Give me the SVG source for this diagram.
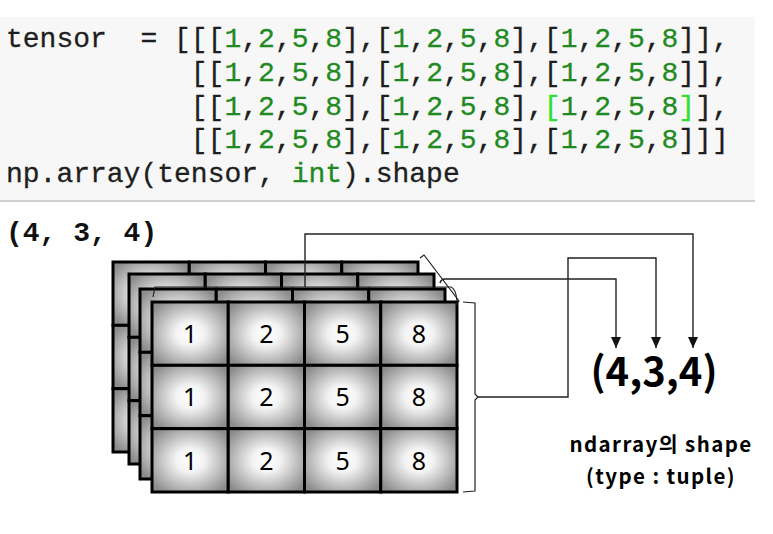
<svg xmlns="http://www.w3.org/2000/svg" xmlns:xlink="http://www.w3.org/1999/xlink" width="773" height="534" viewBox="0 0 773 534">
<style>
.code{font-family:"Liberation Mono","DejaVu Sans Mono",monospace;font-size:28px;fill:#1e1e1e;stroke:#1e1e1e;stroke-width:0.3}
.g{fill:#1f8a22;stroke:#1f8a22}
.hl{fill:#2ee02e;stroke:#2ee02e}
.cell{fill:url(#cellg);stroke:#000;stroke-width:3}
.num{font-family:"Noto Sans","Noto Sans CJK KR",sans-serif;font-size:25px;fill:#000;text-anchor:middle}
.ln{fill:none;stroke:#222;stroke-width:1.4}
.br{fill:none;stroke:#222;stroke-width:1.2}
.big{font-family:"Noto Sans CJK KR","Noto Sans",sans-serif;font-weight:bold;fill:#000;text-anchor:middle}
.lbl{font-size:20.5px;letter-spacing:1.4px}
</style>
<defs>
<radialGradient id="cellg" cx="0.5" cy="0.5" r="0.62">
<stop offset="0" stop-color="#ffffff"/>
<stop offset="0.3" stop-color="#f3f3f3"/>
<stop offset="1" stop-color="#8c8c8c"/>
</radialGradient>
<marker id="arr" markerUnits="userSpaceOnUse" markerWidth="12" markerHeight="10" refX="11" refY="5" orient="auto" viewBox="0 0 12 10">
<path d="M0,0 L11,5 L0,10 Z" fill="#111"/>
</marker>
<g id="grid">
<rect class="cell" x="0" y="0" width="76.25" height="63.33"/>
<rect class="cell" x="76.25" y="0" width="76.25" height="63.33"/>
<rect class="cell" x="152.5" y="0" width="76.25" height="63.33"/>
<rect class="cell" x="228.75" y="0" width="76.25" height="63.33"/>
<rect class="cell" x="0" y="63.33" width="76.25" height="63.33"/>
<rect class="cell" x="76.25" y="63.33" width="76.25" height="63.33"/>
<rect class="cell" x="152.5" y="63.33" width="76.25" height="63.33"/>
<rect class="cell" x="228.75" y="63.33" width="76.25" height="63.33"/>
<rect class="cell" x="0" y="126.67" width="76.25" height="63.33"/>
<rect class="cell" x="76.25" y="126.67" width="76.25" height="63.33"/>
<rect class="cell" x="152.5" y="126.67" width="76.25" height="63.33"/>
<rect class="cell" x="228.75" y="126.67" width="76.25" height="63.33"/>
</g>
</defs>
<rect width="773" height="534" fill="#fff"/>
<g id="code">
<rect x="0" y="17" width="755" height="183" fill="#f7f7f7"/>
<line x1="0" y1="201" x2="755" y2="201" stroke="#cfcfcf" stroke-width="2"/>
<text class="code" x="6" y="47" xml:space="preserve">tensor  = [[[<tspan class="g">1</tspan>,<tspan class="g">2</tspan>,<tspan class="g">5</tspan>,<tspan class="g">8</tspan>],[<tspan class="g">1</tspan>,<tspan class="g">2</tspan>,<tspan class="g">5</tspan>,<tspan class="g">8</tspan>],[<tspan class="g">1</tspan>,<tspan class="g">2</tspan>,<tspan class="g">5</tspan>,<tspan class="g">8</tspan>]],</text>
<text class="code" x="190.8" y="81">[[<tspan class="g">1</tspan>,<tspan class="g">2</tspan>,<tspan class="g">5</tspan>,<tspan class="g">8</tspan>],[<tspan class="g">1</tspan>,<tspan class="g">2</tspan>,<tspan class="g">5</tspan>,<tspan class="g">8</tspan>],[<tspan class="g">1</tspan>,<tspan class="g">2</tspan>,<tspan class="g">5</tspan>,<tspan class="g">8</tspan>]],</text>
<text class="code" x="190.8" y="115">[[<tspan class="g">1</tspan>,<tspan class="g">2</tspan>,<tspan class="g">5</tspan>,<tspan class="g">8</tspan>],[<tspan class="g">1</tspan>,<tspan class="g">2</tspan>,<tspan class="g">5</tspan>,<tspan class="g">8</tspan>],<tspan class="hl">[</tspan><tspan class="g">1</tspan>,<tspan class="g">2</tspan>,<tspan class="g">5</tspan>,<tspan class="g">8</tspan><tspan class="hl">]</tspan>],</text>
<text class="code" x="190.8" y="148">[[<tspan class="g">1</tspan>,<tspan class="g">2</tspan>,<tspan class="g">5</tspan>,<tspan class="g">8</tspan>],[<tspan class="g">1</tspan>,<tspan class="g">2</tspan>,<tspan class="g">5</tspan>,<tspan class="g">8</tspan>],[<tspan class="g">1</tspan>,<tspan class="g">2</tspan>,<tspan class="g">5</tspan>,<tspan class="g">8</tspan>]]]</text>
<text class="code" x="6" y="182" xml:space="preserve">np.array(tensor, <tspan class="g">int</tspan>).shape</text>
</g>
<g id="output">
<text class="code" x="6" y="241" xml:space="preserve" style="font-weight:bold;fill:#111;stroke:none">(4, 3, 4)</text>
</g>
<g id="layer1"><use href="#grid" x="113" y="262"/></g>
<g id="layer2"><use href="#grid" x="129" y="274"/></g>
<g id="layer3"><use href="#grid" x="140" y="289"/></g>
<g id="layer4">
<use href="#grid" x="152" y="302"/>
<text class="num" x="190.1" y="343">1</text>
<text class="num" x="266.4" y="343">2</text>
<text class="num" x="342.6" y="343">5</text>
<text class="num" x="418.9" y="343">8</text>
<text class="num" x="190.1" y="406">1</text>
<text class="num" x="266.4" y="406">2</text>
<text class="num" x="342.6" y="406">5</text>
<text class="num" x="418.9" y="406">8</text>
<text class="num" x="190.1" y="470">1</text>
<text class="num" x="266.4" y="470">2</text>
<text class="num" x="342.6" y="470">5</text>
<text class="num" x="418.9" y="470">8</text>
</g>
<g id="connectors">
<path class="br" d="M153,297 L155,287 L451,287 Q456,289 457,301"/>
<path class="br" d="M420,258 L424,255 L459,301 L456,305"/>
<path class="br" d="M463,302 L475,303 L475,394 L478,397 L475,400 L475,491 L463,492"/>
<path class="ln" d="M305,287 L305,234 L693,234 L693,348" marker-end="url(#arr)"/>
<path class="ln" d="M478,397 L568,397 L568,258 L656,258 L656,348" marker-end="url(#arr)"/>
<path class="ln" d="M440,283 Q441,279 445,279 L616,279 L616,348" marker-end="url(#arr)"/>
</g>
<g id="shape-label">
<text class="big" x="654" y="386" style="font-size:40px">(4,3,4)</text>
<text class="big lbl" x="661" y="452">ndarray의 shape</text>
<text class="big lbl" x="661" y="484" xml:space="preserve">(type : tuple)</text>
</g>
</svg>
